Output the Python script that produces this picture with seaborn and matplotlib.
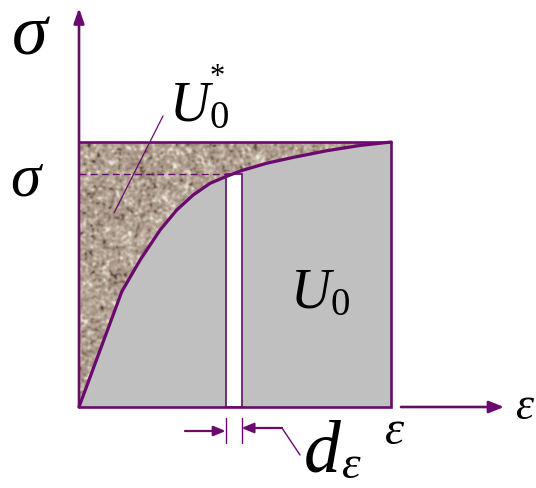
import numpy as np
import pandas as pd
import matplotlib
matplotlib.use("Agg")
import matplotlib.pyplot as plt
from matplotlib.patches import Polygon, Rectangle
from matplotlib.colors import LinearSegmentedColormap
import seaborn as sns

# Stress-strain curve (normalised: final strain = 1, final stress = 1)
strain = [0.0, 0.137, 0.196, 0.26, 0.313, 0.366, 0.42, 0.47, 0.521, 0.602, 0.687, 0.794, 0.901, 1.0]
stress = [0.0, 0.435, 0.555, 0.668, 0.743, 0.8, 0.844, 0.869, 0.892, 0.92, 0.942, 0.967, 0.987, 1.0]

# Strain increment strip d(epsilon) and the stress level it reaches
strip_left = 0.47
strip_right = 0.521
strip_stress = 0.879

labels = {
    "sigma_axis": r"$\sigma$",
    "sigma_level": r"$\sigma$",
    "comp_energy": r"$U_0$",
    "comp_star": "*",
    "strain_energy": r"$U_0$",
    "eps_axis": r"$\varepsilon$",
    "eps_level": r"$\varepsilon$",
    "d": r"$d$",
    "deps": r"$\varepsilon$",
}

PURPLE = "#6a0a6e"
GRAY = "#c0c0c0"

sns.set_theme(style="white")
plt.rcParams["mathtext.fontset"] = "custom"
plt.rcParams["mathtext.it"] = "Liberation Serif:italic"
plt.rcParams["mathtext.rm"] = "Liberation Serif"
plt.rcParams["mathtext.default"] = "it"
plt.rcParams["font.family"] = ["Liberation Serif", "DejaVu Sans"]

fig = plt.figure(figsize=(5.36, 4.88), dpi=100)
ax = fig.add_axes([0, 0, 1, 1])

# pixel-style placement helpers (origin at the axes corner of the diagram)
X0, Y0, SX, SY = 79.0, 407.0, 312.0, 265.0
def ex(px):
    return (px - X0) / SX
def sy(py):
    return (Y0 - py) / SY

df = pd.DataFrame({"strain": strain, "stress": stress})

# strain energy U0: area under the curve
ax.fill_between(df["strain"], 0, df["stress"], color=GRAY, lw=0, zorder=1)

# complementary energy U0*: speckled stone-like texture above the curve
rng = np.random.default_rng(11)
def blur(a, s):
    r = int(3 * s) + 1
    k = np.exp(-np.arange(-r, r + 1) ** 2 / (2 * s * s))
    k /= k.sum()
    a = np.apply_along_axis(lambda m: np.convolve(m, k, mode="same"), 0, a)
    a = np.apply_along_axis(lambda m: np.convolve(m, k, mode="same"), 1, a)
    return a
h, w = 265, 312
grain = blur(rng.standard_normal((h, w)), 1.2)
mottle = blur(rng.standard_normal((h, w)), 3.5)
tex = grain / grain.std() + 0.35 * mottle / mottle.std()
stone = LinearSegmentedColormap.from_list(
    "stone", ["#5c4a3c", "#8a7868", "#a49384", "#b1a191", "#c3b5a7", "#dbd0c4", "#eee7df"])
img = ax.imshow(tex, cmap=stone, vmin=-3.2, vmax=3.2, extent=(0, 1, 0, 1),
                origin="lower", interpolation="bilinear", zorder=1)
clip = Polygon(list(zip(strain, stress)) + [(0.0, 1.0)], closed=True,
               transform=ax.transData, facecolor="none", edgecolor="none")
ax.add_patch(clip)
img.set_clip_path(clip)

# strip d(epsilon)
ax.add_patch(Rectangle((strip_left, 0), strip_right - strip_left, strip_stress,
                       facecolor="white", edgecolor=PURPLE, lw=1.2, zorder=3))

# the stress-strain curve
sns.lineplot(data=df, x="strain", y="stress", sort=False, color=PURPLE,
             lw=2.3, ax=ax, zorder=5, solid_joinstyle="round", solid_capstyle="round")

# bounding rectangle
ax.plot([0, 1, 1, 0], [1, 1, 0, 0], color=PURPLE, lw=1.9, zorder=4,
        solid_joinstyle="miter")
# dashed stress level
ax.plot([0, strip_left], [strip_stress, strip_stress], color=PURPLE, lw=1.0,
        ls=(0, (5, 3)), zorder=4)

# axes arrows
ax.annotate("", xy=(0, sy(8)), xytext=(0, 0),
            arrowprops=dict(arrowstyle="-|>,head_length=0.75,head_width=0.26",
                            color=PURPLE, lw=1.9, shrinkA=0, shrinkB=0), zorder=6)
ax.annotate("", xy=(ex(504), 0), xytext=(ex(401), 0),
            arrowprops=dict(arrowstyle="-|>,head_length=0.75,head_width=0.3",
                            color=PURPLE, lw=1.9, shrinkA=0, shrinkB=0), zorder=6)

# leader for U0*
ax.plot([ex(163), ex(114)], [sy(116), sy(213)], color=PURPLE, lw=0.9, zorder=6)

# d(epsilon) dimension marks
for e in (strip_left, strip_right):
    ax.plot([e, e], [sy(418), sy(443)], color=PURPLE, lw=1.0, zorder=6)
ax.annotate("", xy=(strip_left, sy(431)), xytext=(ex(185), sy(431)),
            arrowprops=dict(arrowstyle="-|>,head_length=0.6,head_width=0.25",
                            color=PURPLE, lw=1.6, shrinkA=0, shrinkB=0))
ax.plot([ex(300), ex(282), ex(262)], [sy(455), sy(428), sy(428)],
        color=PURPLE, lw=1.0)
ax.annotate("", xy=(strip_right, sy(428)), xytext=(ex(282), sy(428)),
            arrowprops=dict(arrowstyle="-|>,head_length=0.6,head_width=0.25",
                            color=PURPLE, lw=1.6, shrinkA=0, shrinkB=0))

# labels
TXT = dict(color="black", va="baseline", ha="left")
ax.text(ex(11), sy(53), labels["sigma_axis"], fontsize=52, **TXT)
ax.text(ex(10), sy(195), labels["sigma_level"], fontsize=44, **TXT)
ax.text(ex(169), sy(121), labels["comp_energy"], fontsize=40, **TXT)
ax.text(ex(210), sy(63), labels["comp_star"], fontsize=22, color="black",
        va="top", ha="left")
ax.text(ex(290), sy(308), labels["strain_energy"], fontsize=40, **TXT)
ax.text(ex(384), sy(444), labels["eps_level"], fontsize=35, **TXT)
ax.text(ex(515), sy(419), labels["eps_axis"], fontsize=33, **TXT)
ax.text(ex(303), sy(488), labels["d"], fontsize=53, color="black", va="bottom", ha="left")
ax.text(ex(341), sy(488), labels["deps"], fontsize=34, color="black", va="bottom", ha="left")

ax.set_xlim(ex(0), ex(536))
ax.set_ylim(sy(488), sy(0))
ax.set_aspect("auto")
ax.axis("off")

fig.savefig("out.png", dpi=100)
